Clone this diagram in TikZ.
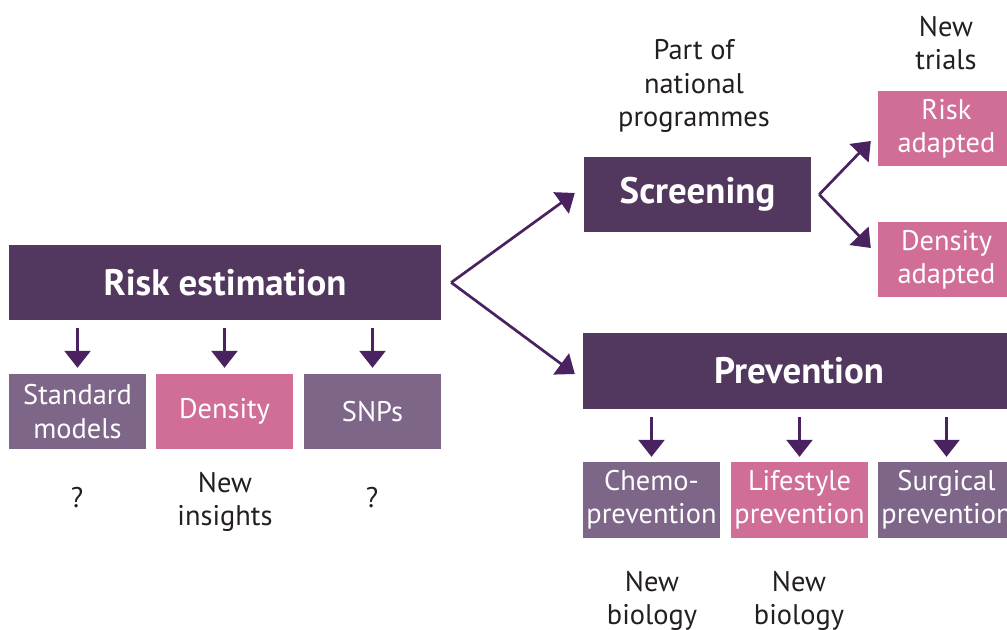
\documentclass[tikz,border=0pt]{standalone}
\usepackage{fontspec}
\setmainfont{PT Sans}
\usetikzlibrary{arrows.meta}
\definecolor{deep}{HTML}{52375E}
\definecolor{mauve}{HTML}{7E6689}
\definecolor{rose}{HTML}{D06E97}
\definecolor{arrowc}{HTML}{4A2260}
\definecolor{ink}{HTML}{231F20}
\begin{document}
\begin{tikzpicture}[x=1bp,y=-1bp,
  base/.style={inner sep=0pt,align=center,text=white,font=\fontsize{28.5}{33.5}\selectfont},
  headbox/.style={base,fill=deep,minimum height=75bp,font=\bfseries\fontsize{37}{40}\selectfont},
  subbox/.style={base,fill=mauve,minimum width=137bp,minimum height=75bp},
  hotbox/.style={subbox,fill=rose},
  note/.style={inner sep=0pt,align=center,text=ink,font=\fontsize{28.5}{33.5}\selectfont},
  flow/.style={draw=arrowc,line width=2.7bp,-{Triangle[width=26bp,length=17bp]}},
]
\useasboundingbox (0,0) rectangle (1007,630);

% left branch: risk estimation
\node[headbox,minimum width=432bp] (risk) at (225,282.5) {Risk estimation};
\node[subbox] (std) at (77.5,411.5) {Standard\\models};
\node[hotbox] (dens) at (224.5,411.5) {Density};
\node[subbox] (snps) at (372.5,411.5) {SNPs};
\foreach \b in {std,dens,snps}
  \draw[flow] ([yshift=-8bp]\b.north |- risk.south) -- ([yshift=6bp]\b.north);
\node[note] (q1) at (77,498) {?};
\node[note] (ins) at (225,502) {New\\insights};
\node[note] (q2) at (372,498) {?};

% screening
\node[headbox,minimum width=227bp] (scr) at (697.5,194.5) {Screening};
\node[note] (nat) at (694,86) {Part of\\national\\programmes};
\node[hotbox] (radapt) at (946.5,128.5) {Risk\\adapted};
\node[hotbox] (dadapt) at (946.5,259.5) {Density\\adapted};
\node[note] (trials) at (946,43) {New\\trials};

% prevention
\node[headbox,minimum width=432bp,minimum height=76bp] (prev) at (799,371) {Prevention};
\node[subbox,minimum height=76bp] (chemo) at (651.5,500) {Chemo-\\prevention};
\node[hotbox,minimum height=76bp] (life) at (799.5,500) {Lifestyle\\prevention};
\node[subbox,minimum height=76bp] (surg) at (946.5,500) {Surgical\\prevention};
\foreach \b in {chemo,life,surg}
  \draw[flow] ([yshift=-8bp]\b.north |- prev.south) -- ([yshift=5bp]\b.north);
\node[note] (bio1) at (652,601) {New\\biology};
\node[note] (bio2) at (799,601) {New\\biology};

% branching connectors
\coordinate (split) at ([xshift=10bp]risk.east);
\draw[flow] (split) -- ([xshift=-9bp,yshift=1.5bp]scr.west);
\draw[flow] (split) -- ([xshift=-8bp,yshift=-3bp]prev.west);
\coordinate (split2) at ([xshift=8bp]scr.east);
\draw[flow] (split2) -- ([xshift=-7bp,yshift=-12.5bp]radapt.west);
\draw[flow] (split2) -- ([xshift=-7bp,yshift=11.5bp]dadapt.west);
\end{tikzpicture}
\end{document}
